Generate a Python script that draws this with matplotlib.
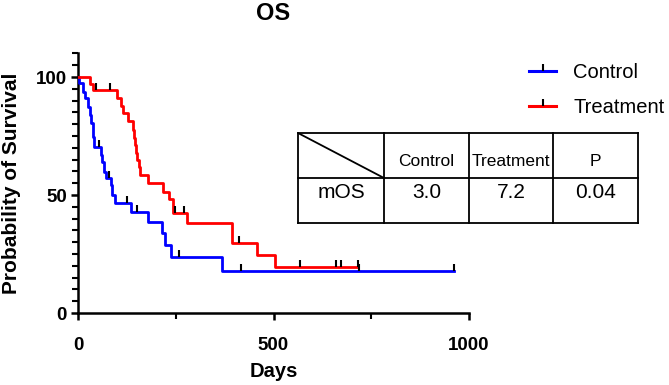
import numpy as np
import matplotlib.pyplot as plt
from matplotlib.lines import Line2D
from matplotlib.ticker import MultipleLocator

plt.rcParams['font.family'] = ['Liberation Sans', 'DejaVu Sans']

# Kaplan-Meier steps (days, % surviving after the step)
control_days = [0, 2, 13, 17, 26, 31, 34, 38, 41, 58, 61, 66, 72, 85, 88, 94, 135, 178, 216, 223, 237, 368, 962]
control_surv = [100, 97.3, 93.8, 91.0, 87.4, 83.9, 80.4, 74.7, 70.5, 67.0, 64.0, 59.9, 57.0, 54.2, 50.0, 46.5, 42.9, 38.7, 33.8, 28.8, 23.9, 17.9, 17.9]
control_censor = [53, 80, 126, 151, 259, 417, 718, 962]

treat_days = [0, 30, 38, 100, 109, 115, 128, 140, 143, 146, 149, 152, 155, 158, 180, 218, 233, 244, 279, 393, 457, 503, 717]
treat_surv = [100, 97.1, 94.3, 91.0, 87.9, 84.6, 81.3, 77.5, 74.3, 71.2, 68.0, 64.8, 61.7, 58.5, 55.0, 51.4, 48.3, 42.2, 38.3, 29.5, 24.6, 19.6, 19.6]
treat_censor = [47, 81, 248, 272, 411, 568, 660, 673, 717]

groups = ['Control', 'Treatment']
colors = ['#0000ff', '#ff0000']

table_header = ['', 'Control', 'Treatment', 'P']
table_row = ['mOS', '3.0', '7.2', '0.04']


def surv_at(days, surv, t):
    idx = np.searchsorted(days, t, side='right') - 1
    return np.array(surv)[idx]


fig = plt.figure(figsize=(6.69, 3.85), dpi=100)
ax = fig.add_axes([78/669, 1 - 313/385, 391/669, 259.6/385])

data = [(control_days, control_surv, control_censor),
        (treat_days, treat_surv, treat_censor)]
for (d, s, c), col in zip(data, colors):
    ax.plot(d, s, drawstyle='steps-post', color=col, lw=2, zorder=3)
    ax.plot(c, surv_at(d, s, c), ls='none', marker=2, ms=5, mew=1.5,
            color='black', zorder=4)

ax.set_xlim(0, 1000)
ax.set_ylim(0, 110)
ax.set_xticks([0, 500, 1000])
ax.xaxis.set_minor_locator(MultipleLocator(250))
ax.set_yticks([0, 50, 100])
ax.yaxis.set_minor_locator(MultipleLocator(5))
for s in ['top', 'right']:
    ax.spines[s].set_visible(False)
for s in ['left', 'bottom']:
    ax.spines[s].set_linewidth(1.8)
ax.tick_params(which='major', length=5, width=1.8, labelsize=13.5)
ax.tick_params(which='minor', length=4, width=1.5)
ax.tick_params(axis='x', which='major', pad=12)
ax.tick_params(axis='y', which='major', pad=3)
for lab in ax.get_xticklabels() + ax.get_yticklabels():
    lab.set_fontweight('bold')

ax.set_xlabel('Days', fontsize=14.5, fontweight='bold')
ax.xaxis.set_label_coords(0.5, -0.19)
ax.set_ylabel('Probability of Survival', fontsize=15, fontweight='bold')
ax.yaxis.set_label_coords(-0.145, 0.5)

fig.text(273.5/669, 1 - 13/385, 'OS', ha='center', va='center',
         fontsize=17, fontweight='bold')

# legend
handles = [Line2D([], [], color=col, lw=2.2, marker=2, ms=5, mew=1.5,
                  markeredgecolor='black') for col in colors]
fig.legend(handles, groups, loc='upper left',
           bbox_to_anchor=(529/669, 1 - 63/385), frameon=False,
           fontsize=14.5, handlelength=1.35, handletextpad=0.85,
           labelspacing=0.8, borderpad=0, borderaxespad=0, numpoints=1)

# median OS table
tab = fig.add_axes([298/669, 1 - 223/385, 340/669, 90/385])
tab.set_xlim(0, 340)
tab.set_ylim(90, 0)
tab.axis('off')
col_edges = [0, 86, 171, 255, 340]
lw = 1.3
for x in col_edges:
    tab.plot([x, x], [0, 90], color='black', lw=lw, clip_on=False)
for y in [0, 45, 90]:
    tab.plot([0, 340], [y, y], color='black', lw=lw, clip_on=False)
tab.plot([0, 86], [0, 45], color='black', lw=lw)
for i in range(4):
    xc = (col_edges[i] + col_edges[i + 1]) / 2
    if table_header[i]:
        tab.text(xc, 28, table_header[i], ha='center', va='center', fontsize=12.5)
    tab.text(xc, 60, table_row[i], ha='center', va='center', fontsize=15)

fig.savefig('out.png', dpi=100)
